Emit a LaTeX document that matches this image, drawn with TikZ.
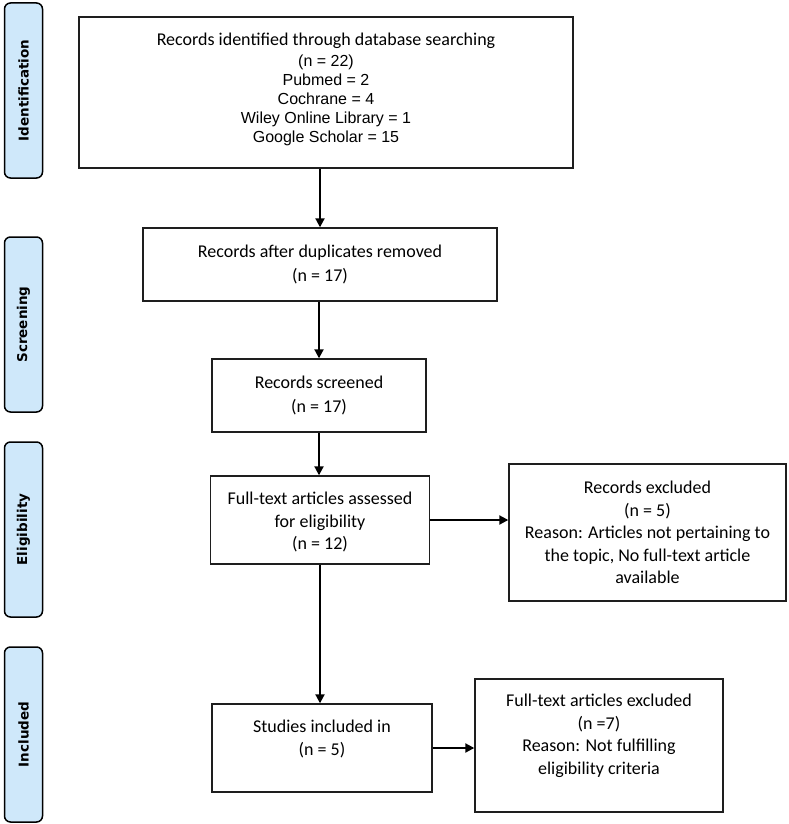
\documentclass[tikz,border=0pt]{standalone}
\usepackage{fontspec}
\setmainfont{Carlito}
\newfontfamily\arialf{Liberation Sans}
\newfontfamily\phasef{DejaVu Sans}
\usetikzlibrary{arrows.meta}
\definecolor{phasefill}{RGB}{207,232,250}
\definecolor{linecol}{RGB}{30,30,30}
\begin{document}
\begin{tikzpicture}[x=1pt,y=-1pt,
  box/.style={draw=linecol,line width=1.4pt,rectangle,inner sep=0pt},
  txt/.style={align=center,inner sep=0pt,font=\fontsize{18}{22.5}\selectfont},
  phase/.style={draw=black,line width=1.5pt,fill=phasefill,rounded corners=6pt,rectangle,inner sep=0pt,minimum width=38pt,minimum height=175pt},
  phasetxt/.style={rotate=90,inner sep=0pt,font=\phasef\bfseries\fontsize{13.5}{16}\selectfont},
  arr/.style={draw=black,line width=2pt,-{Triangle[length=9pt,width=9pt]}}]
\useasboundingbox (0,0) rectangle (789,824);

% phase labels
\node[phase] (p1) at (23.5,90.5) {};
\node[phasetxt] (p1t) at (p1) {Identification};
\node[phase] (p2) at (23.5,324.5) {};
\node[phasetxt] (p2t) at (p2) {Screening};
\node[phase] (p3) at (23.5,529.5) {};
\node[phasetxt] (p3t) at (p3) {Eligibility};
\node[phase] (p4) at (23.5,734.5) {};
\node[phasetxt] (p4t) at (p4) {Included};

% boxes
\node[box,minimum width=494pt,minimum height=151pt] (b1) at (326,92.5) {};
\node[txt,font=\fontsize{18}{19}\selectfont] (t1) at (326,89.5) {Records identified through database searching\\[2.5pt]
  {\arialf\fontsize{16}{19}\selectfont (n = 22)}\\ {\arialf\fontsize{16}{19}\selectfont Pubmed = 2}\\ {\arialf\fontsize{16}{19}\selectfont Cochrane = 4}\\ {\arialf\fontsize{16}{19}\selectfont Wiley Online Library = 1}\\ {\arialf\fontsize{16}{19}\selectfont Google Scholar = 15}};

\node[box,minimum width=354pt,minimum height=73pt] (b2) at (320,264.5) {};
\node[txt,font=\fontsize{18}{24}\selectfont] (t2) at (320,264) {Records after duplicates removed\\(n = 17)};

\node[box,minimum width=214pt,minimum height=73pt] (b3) at (319,395.5) {};
\node[txt,font=\fontsize{18}{24}\selectfont] (t3) at (319,395) {Records screened\\(n = 17)};

\node[box,minimum width=219pt,minimum height=88pt] (b4) at (320,520) {};
\node[txt] (t4) at (320,522) {Full-text articles assessed\\for eligibility\\(n = 12)};

\node[box,minimum width=277pt,minimum height=137pt] (b5) at (647.5,532.5) {};
\node[txt] (t5) at (647.5,532.5) {Records excluded\\(n = 5)\\Reason: Articles not pertaining to\\the topic, No full-text article\\available};

\node[box,minimum width=220pt,minimum height=88pt] (b6) at (322,748) {};
\node[txt] (t6) at (322,739) {Studies included in\\(n = 5)};

\node[box,minimum width=248pt,minimum height=133pt] (b7) at (599,745.5) {};
\node[txt] (t7) at (599,736) {Full-text articles excluded\\(n =7)\\Reason: Not fulfilling\\eligibility criteria};

% connectors
\draw[arr] (b1.south -| b2.north) -- (b2.north);
\draw[arr] (b2.south -| b3.north) -- (b3.north);
\draw[arr] (b3.south) -- (b3.south |- b4.north);
\draw[arr] (b4.south) -- (b4.south |- b6.north);
\draw[arr] (b4.east) -- (b4.east -| b5.west);
\draw[arr] (b6.east) -- (b6.east -| b7.west);
\end{tikzpicture}
\end{document}
